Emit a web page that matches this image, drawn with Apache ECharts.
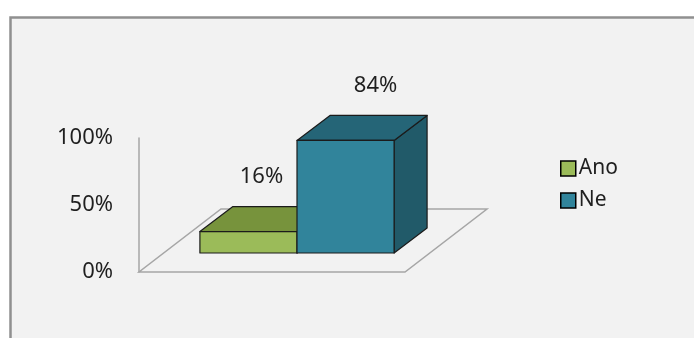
<!DOCTYPE html>
<html>
<head>
<meta charset="utf-8">
<script src="https://cdn.jsdelivr.net/npm/echarts@6/dist/echarts.min.js"></script>
<style>
  html, body { margin: 0; padding: 0; background: #ffffff; }
  #chart { width: 694px; height: 338px; }
</style>
</head>
<body>
<div id="chart"></div>
<script>
// Survey answers shown as a 3D-style column chart
const categories = [''];
const seriesNames = ['Ano', 'Ne'];
const seriesValues = [16, 84];
const yTickValues = [0, 50, 100];

const frontColors = ['#9bbb59', '#31849b'];
const topColors = ['#77933c', '#256577'];
const sideColors = ['#5f762f', '#215a69'];

// Perspective offsets of the pseudo-3D projection
const FLOOR_DX = 82, FLOOR_DY = -63;
const FRONT_DX = 25, FRONT_DY = -19;
const DEPTH_DX = 33, DEPTH_DY = -25;
const BAR_RATIO = 0.365;
// horizontal nudge of each value label relative to the back top edge
const LABEL_NUDGE = [-20, -3];

const chart = echarts.init(document.getElementById('chart'));

function renderFloor(params, api) {
  const c = api.coord([api.value(0), 0]);
  const band = api.size([1, 0])[0];
  const l = c[0] - band / 2, r = c[0] + band / 2, y = c[1];
  return {
    type: 'polygon',
    shape: { points: [[l, y], [r, y], [r + FLOOR_DX, y + FLOOR_DY], [l + FLOOR_DX, y + FLOOR_DY]] },
    style: { fill: 'none', stroke: '#a6a6a6', lineWidth: 1.5 },
    z2: 0
  };
}

function makeBarRenderer(slot) {
  return function (params, api) {
    const cat = api.value(0);
    const val = api.value(1);
    const base = api.coord([cat, 0]);
    const top = api.coord([cat, val]);
    const band = api.size([1, 0])[0];
    const bw = band * BAR_RATIO;
    const x0 = base[0] + (slot - 1) * bw + FRONT_DX;
    const x1 = x0 + bw;
    const yT = top[1] + FRONT_DY;
    const yB = base[1] + FRONT_DY;
    const edge = { stroke: '#1b1b1b', lineWidth: 1.2, lineJoin: 'round' };
    return {
      type: 'group',
      children: [
        {
          type: 'polygon',
          shape: { points: [[x1, yT], [x1 + DEPTH_DX, yT + DEPTH_DY], [x1 + DEPTH_DX, yB + DEPTH_DY], [x1, yB]] },
          style: Object.assign({ fill: sideColors[slot] }, edge)
        },
        {
          type: 'polygon',
          shape: { points: [[x0, yT], [x1, yT], [x1 + DEPTH_DX, yT + DEPTH_DY], [x0 + DEPTH_DX, yT + DEPTH_DY]] },
          style: Object.assign({ fill: topColors[slot] }, edge)
        },
        {
          type: 'rect',
          shape: { x: x0, y: yT, width: bw, height: yB - yT },
          style: Object.assign({ fill: frontColors[slot] }, edge)
        },
        {
          type: 'text',
          x: x0 + DEPTH_DX + bw / 2 + LABEL_NUDGE[slot],
          y: yT + DEPTH_DY - 30,
          style: {
            text: val + '%',
            fill: '#1f1f1f',
            font: '22px "Noto Sans"',
            align: 'center',
            verticalAlign: 'middle'
          }
        }
      ]
    };
  };
}

const series = [
  {
    type: 'custom',
    name: 'floor',
    renderItem: renderFloor,
    data: [[0, 0]],
    z: 1,
    silent: true
  }
];
seriesNames.forEach(function (name, i) {
  series.push({
    type: 'custom',
    name: name,
    renderItem: makeBarRenderer(i),
    itemStyle: { color: frontColors[i] },
    data: [[0, seriesValues[i]]],
    z: 2 + i,
    clip: false
  });
});

chart.setOption({
  animation: false,
  backgroundColor: '#ffffff',
  graphic: [
    {
      type: 'rect',
      z: -10,
      shape: { x: 10.5, y: 17.5, width: 720, height: 360 },
      style: { fill: '#f2f2f2', stroke: '#909090', lineWidth: 2.5 }
    }
  ],
  grid: { left: 139, top: 138, width: 266, height: 134 },
  xAxis: {
    type: 'category',
    data: categories,
    axisLine: { show: false },
    axisTick: { show: false },
    axisLabel: { show: false },
    splitLine: { show: false }
  },
  yAxis: {
    type: 'value',
    min: yTickValues[0],
    max: yTickValues[yTickValues.length - 1],
    interval: yTickValues[1] - yTickValues[0],
    axisLine: { show: true, lineStyle: { color: '#a6a6a6', width: 1.5 } },
    axisTick: { show: false },
    splitLine: { show: false },
    axisLabel: {
      formatter: '{value}%',
      margin: 26,
      color: '#1f1f1f',
      fontFamily: 'Noto Sans',
      fontSize: 22
    }
  },
  legend: {
    data: seriesNames,
    orient: 'vertical',
    left: 555,
    top: 153,
    icon: 'rect',
    itemWidth: 15,
    itemHeight: 15,
    itemGap: 11,
    itemStyle: { borderColor: '#000000', borderWidth: 1.5 },
    textStyle: {
      fontFamily: 'Noto Sans',
      fontSize: 21,
      lineHeight: 16,
      color: '#1f1f1f',
      padding: [0, 0, 0, -2]
    }
  },
  series: series
});
</script>
</body>
</html>
